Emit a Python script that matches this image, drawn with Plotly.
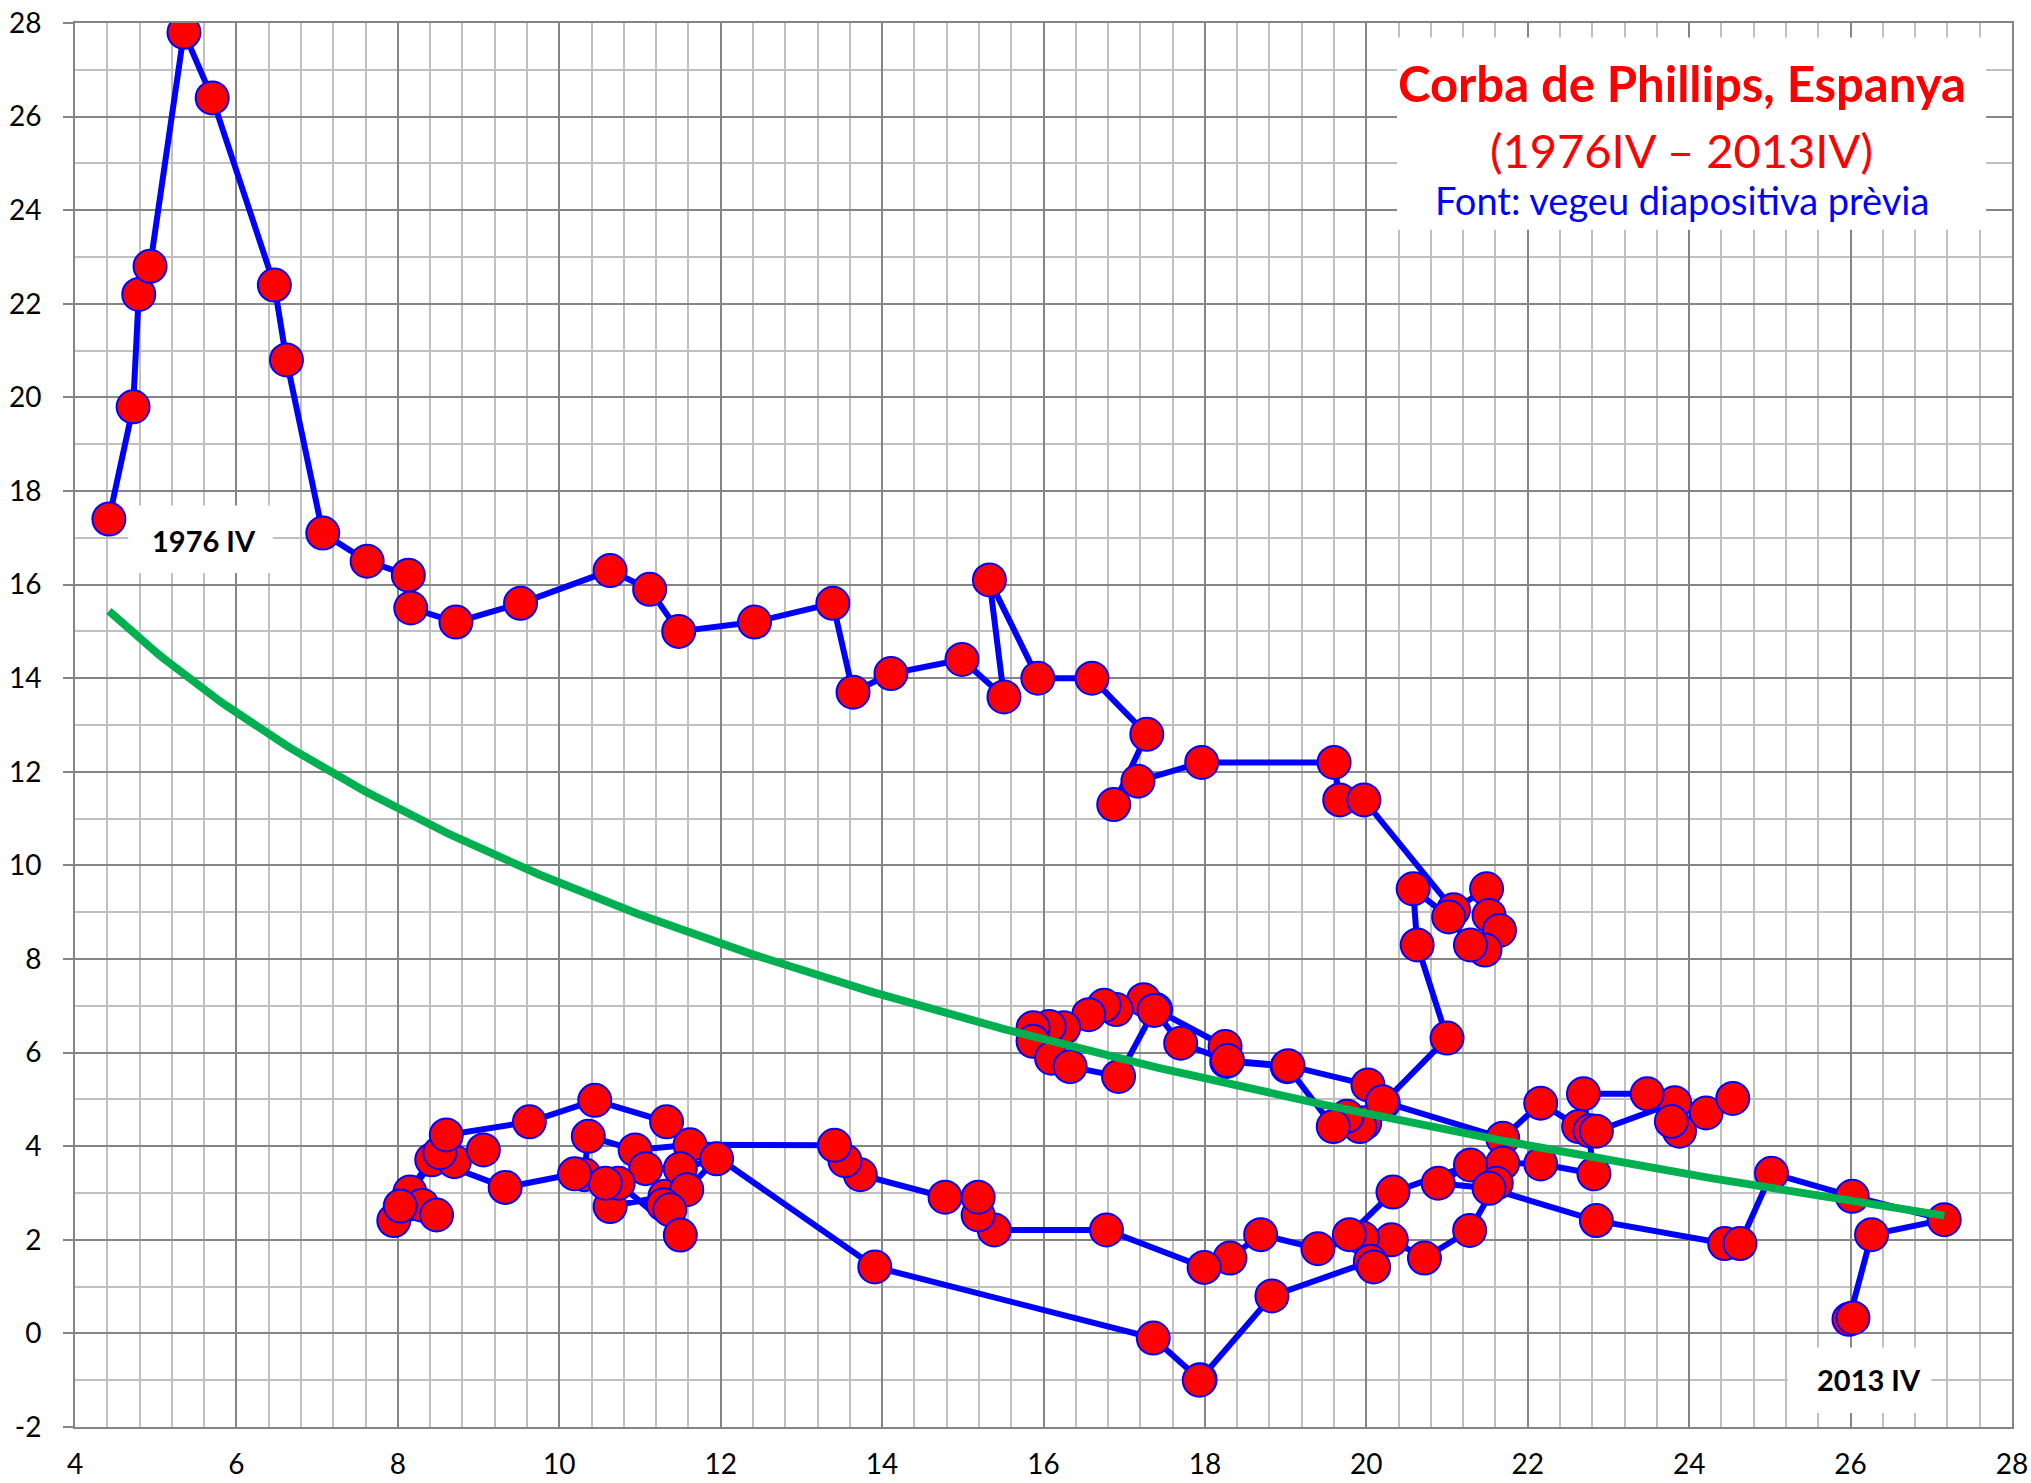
import numpy as np
import plotly.graph_objects as go

# Taxa d'atur (%) - eix X, trimestres 1976 IV ... 2013 IV
atur = [
    # 1976 IV - 1984
    4.42, 4.72, 4.79, 4.93, 5.35, 5.70, 6.47, 6.62, 7.07, 7.62, 8.13, 8.16, 8.72, 9.52,
    10.63, 11.12, 11.48, 12.42, 13.39, 13.64, 14.11, 14.99, 15.51, 15.33, 15.93, 16.60,
    17.28, 16.87, 17.17, 17.96, 19.60, 19.67, 19.97,
    # 1985 - 1987 I
    21.08, 21.49, 21.52, 21.65, 21.47, 21.29, 21.02, 20.58, 20.63, 21.00,
    # 1987 - 1996
    20.21, 19.98, 19.92, 19.76, 19.59, 19.02, 18.27, 18.25, 17.39, 17.24, 16.90, 16.75,
    16.56, 16.25, 16.07, 15.87, 15.87, 16.10, 16.33, 16.93, 17.37, 17.70, 18.28, 19.03,
    20.02, 20.20, 21.69, 22.16, 22.63, 22.77, 22.85, 23.82, 24.21, 24.54, 23.88, 23.78,
    23.48, 22.69, 22.82, 22.16, 21.69, 21.61,
    # 1997 - 2000
    21.28, 20.72, 20.31, 19.95, 19.40, 18.69, 18.31, 17.99, 16.78, 15.39, 15.19, 15.19,
    14.78, 13.73, 13.54, 13.41,
    # 2001 - 2004
    11.62, 10.94, 10.36, 10.31, 10.63, 11.31, 11.07, 11.50, 11.95, 11.58, 11.29, 11.37,
    11.50, 10.73, 10.57,
    # 2005 - 2008 III
    10.19, 9.33, 8.42, 8.70, 9.06, 8.52, 8.15, 8.30, 8.48, 7.95, 8.03, 8.60, 9.63, 10.44,
    11.33,
    # 2008 IV - 2013 IV
    13.91, 17.36, 17.94, 17.93, 18.83, 20.05, 20.09, 19.79, 20.33, 21.29, 20.89, 21.52,
    22.85, 24.44, 24.63, 25.02, 26.02, 27.16, 26.26, 25.98, 26.03,
]

# Taxa d'inflacio (%) - eix Y
inflacio = [
    # 1976 IV - 1984
    17.4, 19.8, 22.2, 22.8, 27.8, 26.4, 22.4, 20.8, 17.1, 16.5, 16.2, 15.5, 15.2, 15.6,
    16.3, 15.9, 15.0, 15.2, 15.6, 13.7, 14.1, 14.4, 13.6, 16.1, 14.0, 14.0,
    12.8, 11.3, 11.8, 12.2, 12.2, 11.4, 11.4,
    # 1985 - 1987 I
    9.05, 9.5, 8.93, 8.61, 8.19, 8.3, 8.9, 9.5, 8.3, 6.31,
    # 1987 - 1996
    4.92, 4.5, 4.42, 4.64, 4.42, 5.7, 5.81, 6.13, 6.92, 7.13, 6.92, 7.01,
    6.81, 6.53, 6.56, 6.53, 6.24, 5.88, 5.7, 5.49, 6.9, 6.2, 5.83, 5.72,
    5.31, 4.95, 4.17, 4.92, 4.42, 4.33, 4.32, 4.93, 4.71, 5.02, 4.32, 4.53,
    5.12, 5.12, 3.41, 3.62, 3.64, 3.21,
    # 1997 - 2000
    2.2, 1.61, 2.0, 2.04, 1.81, 2.11, 1.61, 1.41, 2.21, 2.21, 2.53, 2.91,
    2.91, 3.39, 3.69, 4.02,
    # 2001 - 2004
    4.03, 3.92, 4.21, 3.39, 2.71, 2.93, 3.52, 3.52, 3.73, 3.07, 2.75, 2.64,
    2.1, 3.21, 3.21,
    # 2005 - 2008 III
    3.41, 3.12, 3.71, 3.67, 3.92, 3.86, 3.02, 2.74, 2.53, 2.41, 2.72, 4.24, 4.52, 4.98,
    4.52,
    # 2008 IV - 2013 IV
    1.42, -0.1, -0.99, -1.0, 0.8, 1.54, 1.42, 2.11, 3.02, 3.6, 3.21, 3.1,
    2.41, 1.92, 1.92, 3.42, 2.93, 2.43, 2.11, 0.3, 0.33,
]

titol = "Corba de Phillips, Espanya"
periode = "(1976IV \u2013 2013IV)"
font_text = "Font: vegeu diapositiva pr\u00e8via"
etiqueta_inici = "1976 IV"
etiqueta_final = "2013 IV"

x_ticks = list(range(4, 29, 2))
y_ticks = list(range(-2, 29, 2))

# Linia de tendencia logaritmica ajustada a les dades (com la d'Excel)
xa = np.array(atur)
ya = np.array(inflacio)
b, a = np.polyfit(np.log(xa), ya, 1)
tx = np.linspace(xa.min(), xa.max(), 300)
ty = a + b * np.log(tx)

FONT = "Lato"
MAJOR = "#858585"
MINOR = "#c0c0c0"

fig = go.Figure()
fig.add_trace(go.Scatter(
    x=atur, y=inflacio, mode="lines+markers",
    line=dict(color="#0000ff", width=6),
    marker=dict(size=33, color="#ff0000", line=dict(color="#0000ff", width=2)),
    hoverinfo="x+y", showlegend=False,
))
fig.add_trace(go.Scatter(
    x=tx, y=ty, mode="lines",
    line=dict(color="#00b050", width=8),
    hoverinfo="skip", showlegend=False,
))

# white boxes behind the texts (over the grid)
fig.add_shape(type="rect", xref="x", yref="y", x0=20.38, x1=27.68, y0=23.58, y1=27.69,
              fillcolor="white", line=dict(width=0), layer="between")
fig.add_shape(type="rect", xref="x", yref="y", x0=4.66, x1=6.45, y0=16.25, y1=17.69,
              fillcolor="white", line=dict(width=0), layer="between")
fig.add_shape(type="rect", xref="x", yref="y", x0=25.22, x1=27.0, y0=-1.7, y1=-0.3,
              fillcolor="white", line=dict(width=0), layer="between")

fig.add_annotation(x=23.91, y=26.72, xref="x", yref="y", text="<b>%s</b>" % titol,
                   showarrow=False, font=dict(family=FONT, size=49, color="#ff0000"))
fig.add_annotation(x=23.91, y=25.29, xref="x", yref="y", text=periode,
                   showarrow=False, font=dict(family=FONT, size=47, color="#ff0000"))
fig.add_annotation(x=23.91, y=24.22, xref="x", yref="y", text=font_text,
                   showarrow=False, font=dict(family=FONT, size=38, color="#0000ff"))
fig.add_annotation(x=5.6, y=16.95, xref="x", yref="y", text="<b>%s</b>" % etiqueta_inici,
                   showarrow=False, font=dict(family=FONT, size=29, color="black"))
fig.add_annotation(x=26.23, y=-0.99, xref="x", yref="y", text="<b>%s</b>" % etiqueta_final,
                   showarrow=False, font=dict(family=FONT, size=29, color="black"))

fig.update_layout(
    width=2031, height=1483,
    margin=dict(l=75, r=19, t=23, b=56, autoexpand=False),
    paper_bgcolor="white", plot_bgcolor="white",
    font=dict(family=FONT, size=28, color="black"),
    xaxis=dict(
        range=[4, 28], tickmode="array", tickvals=x_ticks, ticktext=[str(v) for v in x_ticks],
        showgrid=True, gridcolor=MAJOR, gridwidth=2,
        minor=dict(tickmode="linear", tick0=0, dtick=0.4, showgrid=True, gridcolor=MINOR, gridwidth=2),
        zeroline=False, showline=True, linecolor=MAJOR, linewidth=2, mirror=True,
        ticks="", ticklabelstandoff=11, automargin=False,
        tickfont=dict(family=FONT, size=28, color="black"),
    ),
    yaxis=dict(
        range=[-2, 28], tickmode="array", tickvals=y_ticks, ticktext=[str(v) for v in y_ticks],
        showgrid=True, gridcolor=MAJOR, gridwidth=2,
        minor=dict(tickmode="linear", tick0=0, dtick=1, showgrid=True, gridcolor=MINOR, gridwidth=2),
        zeroline=False, showline=True, linecolor=MAJOR, linewidth=2, mirror=True,
        ticks="outside", ticklen=10, tickwidth=2, tickcolor=MAJOR, ticklabelstandoff=16,
        automargin=False, tickfont=dict(family=FONT, size=28, color="black"),
    ),
)

fig.write_html("out.html", config={"displayModeBar": False},
               post_script="document.body.style.margin='0';")
